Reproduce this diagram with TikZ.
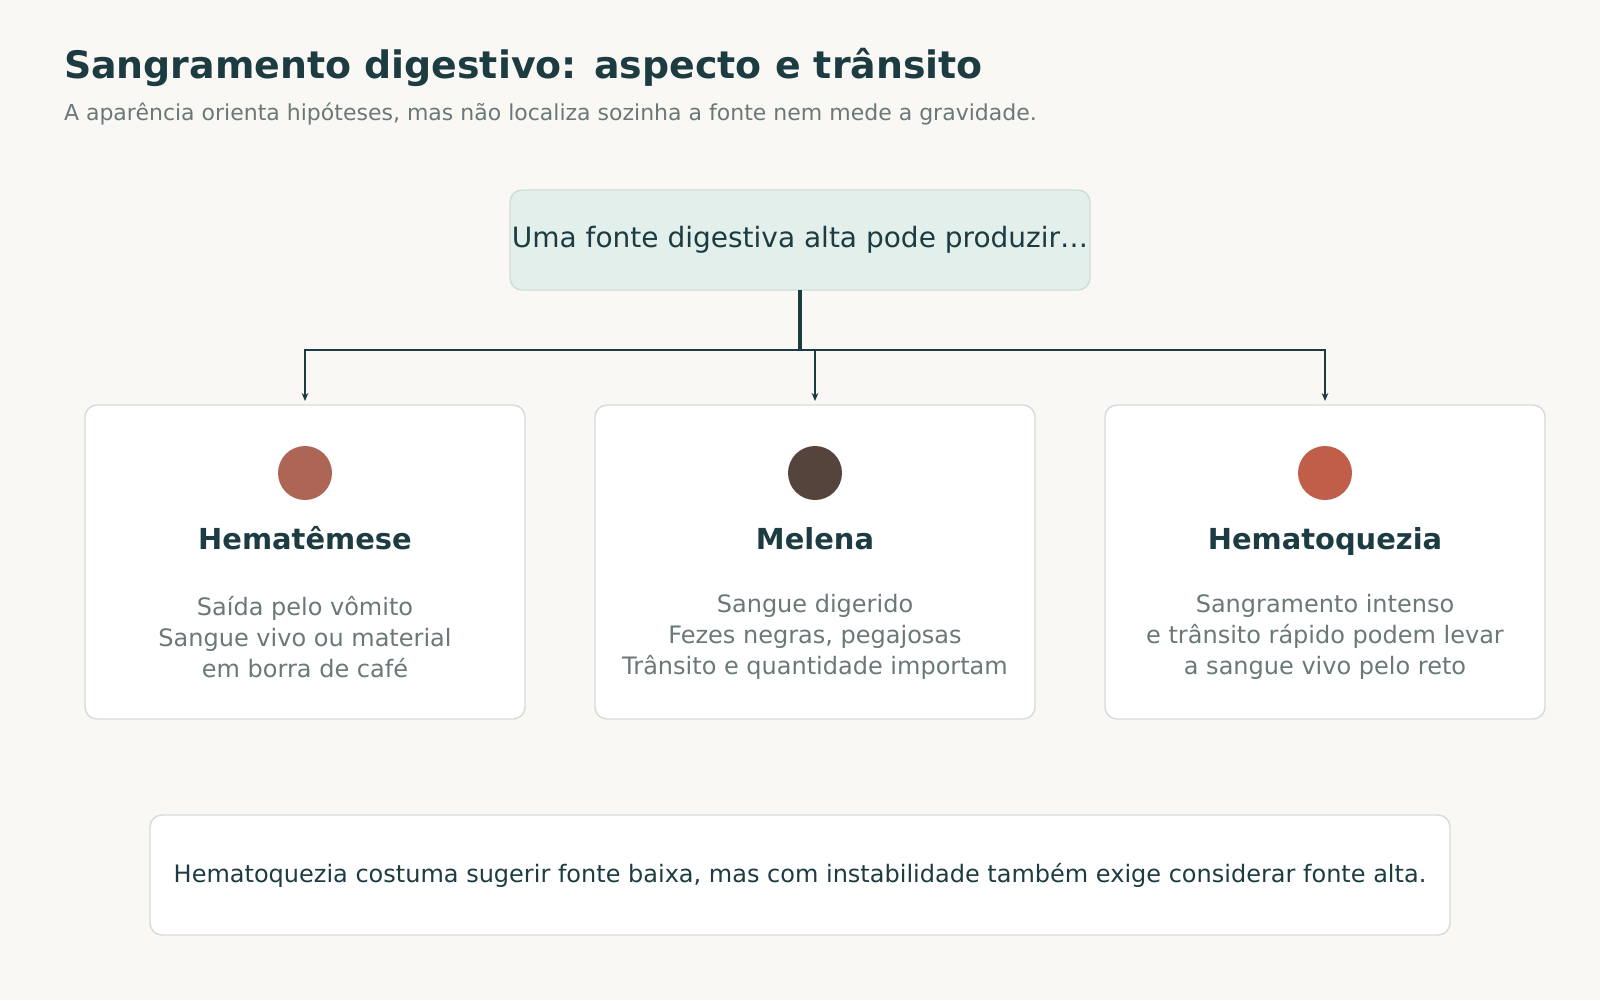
\documentclass[tikz,border=0pt]{standalone}
\usepackage{fontspec}
\setmainfont{DejaVu Sans}
\usetikzlibrary{positioning,calc,arrows.meta}
\definecolor{bgpaper}{HTML}{F9F8F5}
\definecolor{inkteal}{HTML}{1D3C42}
\definecolor{greytext}{HTML}{6B7878}
\definecolor{mintfill}{HTML}{E2EFEB}
\definecolor{mintline}{HTML}{D0DDD8}
\definecolor{cardline}{HTML}{D6DCDA}
\definecolor{dotfresh}{HTML}{AD6556}
\definecolor{dotdark}{HTML}{55443B}
\definecolor{dotred}{HTML}{C15E4A}

\begin{document}
\begin{tikzpicture}[
    x=0.75pt, y=-0.75pt,
    node distance=52.5pt,
    outer sep=0pt,
    card/.style={draw=cardline, line width=1.1pt, fill=white, rounded corners=9pt, minimum width=330pt, minimum height=235.5pt},
    dot/.style={circle, minimum size=40.5pt, inner sep=0pt},
    heading/.style={font=\fontsize{21.7}{26}\selectfont\bfseries, text=inkteal},
    body/.style={font=\fontsize{18}{23.5}\selectfont, text=greytext, align=center},
    conn/.style={draw=inkteal, line width=2.2pt},
    arr/.style={conn, -{Stealth[length=6pt,width=5pt]}, shorten >=3pt}
]
    \fill[bgpaper] (0,0) rectangle (1600,1000);

    % title
    \node [anchor=base west, inner sep=0pt, font=\fontsize{28.4}{32}\selectfont\bfseries, text=inkteal] (title) at (64,78) {Sangramento digestivo: aspecto e trânsito};
    \node [anchor=base west, inner sep=0pt, font=\fontsize{16.5}{20}\selectfont, text=greytext] (subtitle) at (64,120) {A aparência orienta hipóteses, mas não localiza sozinha a fonte nem mede a gravidade.};

    % source
    \node [draw=mintline, line width=1.1pt, fill=mintfill, rounded corners=9pt, inner xsep=1pt, minimum width=435pt, minimum height=75pt, font=\fontsize{21}{25}\selectfont, text=inkteal] (src) at (800,240) {\raisebox{-2.5pt}{Uma fonte digestiva alta pode produzir…}};

    % cards
    \node [card] (c1) at (305,562) {};
    \node [card, right=of c1] (c2) {};
    \node [card, right=of c2] (c3) {};

    \node [dot, fill=dotfresh] (d1) at ($(c1.north)+(0,68)$) {};
    \node [dot, fill=dotdark] (d2) at ($(c2.north)+(0,68)$) {};
    \node [dot, fill=dotred] (d3) at ($(c3.north)+(0,68)$) {};

    \node [heading, anchor=base] (h1) at ($(c1.north)+(0,144)$) {Hematêmese};
    \node [heading, anchor=base] (h2) at ($(c2.north)+(0,144)$) {Melena};
    \node [heading, anchor=base] (h3) at ($(c3.north)+(0,144)$) {Hematoquezia};

    \node [body] (t1) at ($(c1.north)+(0,232)$) {Saída pelo vômito\\Sangue vivo ou material\\em borra de café};
    \node [body] (t2) at ($(c2.north)+(0,232)$) {Sangue digerido\\Fezes negras, pegajosas\\Trânsito e quantidade importam};
    \node [body] (t3) at ($(c3.north)+(0,232)$) {Sangramento intenso\\e trânsito rápido podem levar\\a sangue vivo pelo reto};

    % connectors
    \draw [conn, line width=2.6pt] (src.south) -- ++(0,60) coordinate (split);
    \draw [arr] (split) -| (c1.north);
    \draw [arr] (split) -| (c2.north);
    \draw [arr] (split) -| (c3.north);

    % note
    \node [draw=cardline, line width=1.1pt, fill=white, rounded corners=9pt, minimum width=975pt, minimum height=90pt, font=\fontsize{18}{21}\selectfont, text=inkteal] (note) at (800,875) {Hematoquezia costuma sugerir fonte baixa, mas com instabilidade também exige considerar fonte alta.};
\end{tikzpicture}
\end{document}
